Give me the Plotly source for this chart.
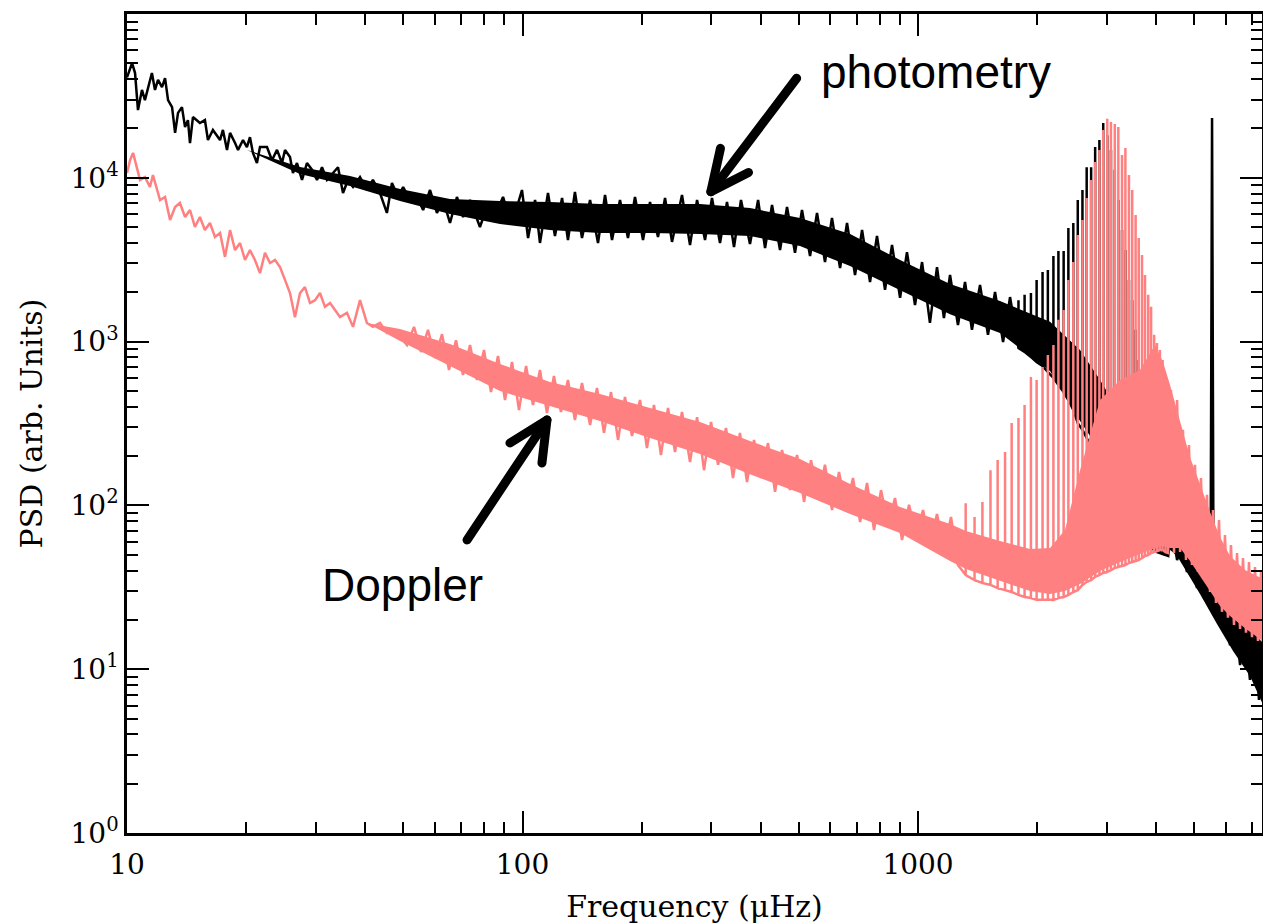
import plotly.graph_objects as go

# ---------------- Photometry spectrum (black) ----------------
phot_low_freq = [
    10.0, 10.30, 10.48, 10.66, 10.91, 11.10, 11.56, 11.77, 11.98, 12.26, 12.48, 12.70, 13.00, 13.23, 13.46, 13.77, 14.02, 14.26, 14.43, 14.68,
    15.29, 15.74, 16.02, 16.49, 17.19, 17.48, 17.90, 18.22, 18.76, 19.09, 19.65, 20.10, 20.46, 20.82, 21.31, 21.69, 22.59, 23.26, 23.95, 24.66,
    25.09, 25.83, 26.28, 26.90, 27.70, 28.51, 29.36, 30.23, 31.12, 32.04, 33.18, 34.16, 35.17, 36.20, 37.28, 38.83, 40.42, 41.86, 43.62, 45.41,
    46.77, 48.45, 49.91, 51.96, 54.09, 56.07, 58.37, 60.77, 62.98, 65.57, 68.27, 70.77, 73.68, 78.06, 81.27, 84.24, 89.29, 92.98, 96.82,
    99.7, 103.3, 107.6, 110.7, 116.0, 120.8, 125.9, 130.3, 135.7, 141.4, 148.2, 155.2, 161.7, 168.4, 176.4, 184.8, 192.5, 201.7, 210.1, 220.1,
    229.3, 238.8, 253.1, 265.2, 276.3, 289.4, 301.4, 315.8, 328.9, 342.6, 356.8, 376.0, 394.2, 410.5, 427.5, 447.9, 466.5, 488.7, 509.0, 533.4,
    555.5, 581.9, 606.1, 635.3, 661.5, 693.1, 722.1, 756.3, 787.6, 825.3, 859.7, 900.9, 937.8, 982.7, 1024, 1072, 1117, 1163, 1205, 1262,
    1315, 1369, 1435, 1503, 1566, 1641, 1709,
]
phot_low_psd = [
    41000, 50200, 43600, 25900, 34400, 29800, 43600, 34400, 39600, 35800, 40600, 29800, 27000, 18800, 24900, 27000, 20400, 22500, 16300, 23500,
    21600, 22500, 17000, 19600, 17000, 19600, 14800, 18800, 16300, 14800, 17000, 15400, 17700, 14200, 12300, 15400, 15400, 12800, 14800, 12300,
    14800, 13400, 10700, 12300, 9700, 12300, 11200, 9700, 11600, 9700, 10700, 11600, 8080, 9700, 8790, 10100, 8430, 9700, 8080, 6100,
    9300, 7640, 8790, 7320, 7640, 6360, 8420, 6100, 7320, 5300, 7640, 5760, 7320, 5010, 6630, 5530, 7640, 5530, 6630,
    8420, 4290, 7320, 4000, 8080, 4410, 7530, 4170, 8190, 4290, 7320, 4000, 7850, 4170, 7320, 4290, 7640, 4170, 7120, 4350,
    7530, 4060, 7850, 3890, 7320, 4170, 7530, 4000, 7120, 3780, 7320, 3940, 7320, 3730, 6820, 3620, 6630, 3480, 6360, 3330,
    6100, 3060, 5680, 2810, 5300, 2550, 4800, 2310, 4410, 2070, 3890, 1850, 3520, 1670, 3060, 1300, 2850, 1390, 2550, 1260,
    2310, 1180, 2220, 1100, 2010, 995, 1870,
]
# p-mode comb seen in photometry
phot_mode_freq = [1795, 1860, 1930, 1995, 2065, 2130, 2200, 2265, 2335, 2400, 2470, 2535, 2605, 2670, 2740, 2805, 2875, 2940, 3010,
                  3075, 3145, 3210, 3280, 3345, 3415, 3480, 3550, 3615, 3685, 3750, 3820, 3885, 3955, 4020, 4090, 4155, 4225, 4290]
phot_mode_peak = [1790, 1930, 1980, 2380, 2660, 2740, 3330, 3570, 3570, 4940, 5300, 7320, 8420, 11600, 11600, 15400, 17000, 21600, 18200,
                  14800, 11200, 7320, 4800, 3620, 2380, 1790, 1180, 772, 506, 332, 251, 189, 143, 108, 93.7, 81.5, 70.8, 66.0]
phot_mode_base = [914, 864, 805, 751, 710, 652, 600, 543, 492, 440, 382, 318, 289, 258, 230, 212, 195, 177, 160,
                  147, 133, 121, 111, 101, 91.1, 83.8, 75.9, 70.8, 66.0, 61.5, 57.3, 55.0, 53.4, 51.9, 51.2, 50.5, 49.8, 49.1]
phot_tail_freq = [4387, 4520, 4650, 4787, 4929, 5075, 5225, 5379, 5490, 5540, 5590, 5669, 5803, 5973, 6151, 6332, 6521, 6713,
                  6908, 7113, 7281, 7454, 7543]
phot_tail_psd = [70.8, 46.4, 57.3, 39.2, 49.8, 31.3, 41.5, 25.4, 26.5, 23200, 24.7, 30.4, 18.6, 26.5, 14.0, 21.4, 10.6, 17.3,
                 8.6, 15.1, 6.5, 15.1, 5.4]
# upper / lower edge of the dense noise band
phot_band_freq = [20.10, 27.38, 36.64, 49.02, 65.57, 87.71, 117.3, 157.0, 210.1, 281.1, 376.0, 503.1, 673.4, 900.9, 1205, 1612,
                  2157, 2569, 2886, 3436, 4093, 4520, 5165, 5702, 6260, 6908, 7543]
phot_band_hi = [14800, 11640, 10250, 8540, 7420, 7220, 7120, 6920, 6920, 6920, 6540, 5680, 4540, 3150, 2250, 1770,
                1320, 889, 583, 289, 143, 88.6, 50.5, 33.1, 23.3, 17.6, 14.0]
phot_band_lo = [14800, 10550, 8910, 7220, 6010, 5220, 4800, 4600, 4600, 4540, 4410, 3830, 2890, 2070, 1470, 1130,
                661, 328, 215, 114, 60.6, 49.1, 28.8, 18.9, 12.9, 9.1, 5.7]

# ---------------- Doppler spectrum (pink) ----------------
dopp_low_freq = [
    10.0, 10.18, 10.36, 10.60, 10.79, 11.10, 11.43, 11.63, 11.91, 12.12, 12.48, 12.85, 13.23, 13.61, 14.02, 14.43, 14.85, 15.29, 15.74, 16.21,
    16.69, 17.19, 17.69, 18.22, 18.76, 19.31, 19.88, 20.46, 21.06, 21.69, 22.33, 22.99, 23.67, 24.37, 25.09, 25.83, 26.59, 27.38, 28.18, 29.02,
    29.88, 30.76, 31.66, 32.61, 33.57, 34.57, 35.99, 37.28, 38.83, 40.42, 41.86, 43.62, 45.41, 47.04, 49.02,
    51.05, 53.18, 55.39, 57.69, 60.09, 62.59, 65.19, 67.90, 70.72, 73.68, 76.73, 79.92, 83.24, 86.70, 90.31, 94.07, 97.98, 102.1, 106.3, 110.7,
    115.3, 120.1, 125.1, 130.3, 135.7, 141.4, 148.2, 154.3, 160.7, 167.4, 174.4, 181.6, 189.2, 198.2, 206.4, 215.0, 223.9, 233.3, 243.0, 253.1,
    265.2, 276.3, 287.7, 299.7, 312.2, 327.0, 340.6, 354.7, 369.5, 384.9, 400.9, 417.6, 435.0, 453.1, 474.6, 494.5, 515.1, 536.5, 558.8, 581.9,
    606.1, 631.4, 657.7, 685.0, 713.9, 743.2, 774.1, 806.4, 839.9, 874.8, 911.2, 949.1, 988.4, 1030, 1072, 1117, 1163, 1212, 1262,
]
dopp_low_psd = [
    10700, 12800, 14200, 11600, 9700, 10100, 8790, 10400, 8420, 7320, 7640, 5530, 6630, 7020, 5760, 6360, 5010, 5760, 4800, 5300,
    4350, 4600, 3290, 4800, 3620, 4000, 3150, 3620, 3150, 2620, 3480, 3020, 3150, 2850, 2380, 1980, 1410, 1980, 2150, 1720,
    1790, 1980, 1630, 1720, 1560, 1410, 1500, 1230, 1790, 1300, 1230, 1300, 1130, 1180, 1070,
    953, 1230, 864, 1180, 794, 1110, 671, 1020, 625, 953, 583, 889, 492, 817, 440, 751, 382, 710, 410, 671,
    366, 617, 372, 583, 332, 559, 310, 521, 277, 492, 251, 459, 265, 440, 224, 410, 203, 393, 212, 372,
    184, 346, 164, 323, 177, 297, 147, 277, 139, 251, 147, 240, 121, 218, 124, 203, 105, 189, 111, 177,
    93.7, 160, 96.4, 147, 79.2, 137, 70.8, 124, 75.9, 111, 61.5, 101, 66.0, 93.7, 57.3, 88.6, 53.4, 84.9, 43.3,
]
dopp_mode_freq = [1320, 1390, 1455, 1525, 1590, 1660, 1725, 1795, 1860, 1930, 1995, 2065, 2130, 2200, 2265, 2335, 2400, 2470, 2535,
                  2605, 2670, 2740, 2805, 2875, 2940, 3010, 3075, 3145, 3210, 3280, 3345, 3415, 3480, 3550, 3615, 3685, 3750,
                  3820, 3885, 3955, 4020, 4090, 4155, 4225, 4290]
dopp_mode_peak = [103, 85, 105, 164, 189, 212, 318, 342, 410, 609, 583, 700, 829, 953, 1360, 1560, 2380, 3060, 4480,
                  5530, 7530, 9700, 12500, 14800, 19600, 22900, 21900, 21300, 20400, 13800, 15200, 10400, 8420, 5930, 4290, 3380, 2550,
                  1930, 1630, 1100, 980, 889, 773, 626, 543]
dopp_mode_base = [37.6, 35.0, 33.6, 32.7, 31.3, 30.4, 29.6, 28.4, 27.6, 27.2, 26.5, 26.5, 26.5, 26.5, 27.2, 27.6, 28.4, 29.6, 30.4,
                  32.7, 34.1, 35.0, 36.6, 37.6, 38.7, 39.2, 40.3, 41.5, 42.1, 42.7, 43.3, 44.5, 45.1, 45.8, 46.4, 47.7, 49.1,
                  49.8, 51.2, 51.9, 52.6, 53.4, 53.4, 51.9, 51.2]
dopp_tail_freq = [4362, 4440, 4520, 4599, 4677, 4760, 4844, 4929, 5016, 5105, 5194, 5286, 5379, 5475, 5571, 5669, 5768,
                  5870, 5973, 6077, 6185, 6295, 6407, 6521, 6634, 6751, 6869, 6991, 7113, 7238, 7366, 7496, 7626]
dopp_tail_psd = [506, 51.2, 440, 51.9, 289, 46.4, 234, 43.3, 177, 39.2, 147, 36.1, 116, 29.6, 93.7, 25.4, 81.5,
                 22.4, 66.0, 20.6, 57.3, 18.6, 51.2, 17.6, 47.7, 16.7, 45.1, 15.7, 42.1, 14.9, 39.2, 13.9, 36.6]
dopp_band_freq = [40.42, 49.02, 65.57, 87.71, 117.3, 157.0, 210.1, 281.1, 376.0, 503.1, 673.4, 900.9, 1205, 1322, 1612, 1920,
                  2157, 2353, 2569, 2886, 3242, 3642, 3973, 4165, 4338, 4599, 4873, 5165, 5475, 5803, 6151, 6713, 7543]
dopp_band_hi = [1300, 1194, 967, 730, 567, 479, 393, 323, 247, 192, 135, 97.8, 77.0, 69.8, 60.6, 54.2,
                55.0, 70.8, 164, 440, 583, 671, 953, 751, 543, 328, 197, 135, 91.1, 64.1, 49.1, 40.3, 35.0]
dopp_band_lo = [1300, 1010, 710, 499, 404, 328, 258, 206, 155, 119, 88.6, 67.9, 45.8, 40.9, 34.6, 30.0,
                28.8, 30.0, 33.1, 39.8, 45.1, 50.5, 55.0, 56.5, 55.0, 55.0, 45.8, 37.1, 30.0, 24.3, 21.1, 17.8, 14.5]

# ---------------- axis ticks ----------------
x_major = [10, 100, 1000]
x_major_text = ["10", "100", "1000"]
x_minor = [20, 30, 40, 50, 60, 70, 80, 90, 200, 300, 400, 500, 600, 700, 800, 900, 2000, 3000, 4000, 5000, 6000, 7000]
y_major = [1, 10, 100, 1000, 10000, 100000]
y_major_text = ["10<sup>0</sup>", "10<sup>1</sup>", "10<sup>2</sup>", "10<sup>3</sup>", "10<sup>4</sup>", "10<sup>5</sup>"]
y_minor = [m * d for d in [1, 10, 100, 1000, 10000] for m in range(2, 10)]

BLACK = "#000000"
PINK = "#ff8080"


def spectrum(low_f, low_p, mode_f, mode_pk, mode_bs, tail_f, tail_p):
    xs, ys = list(low_f), list(low_p)
    for f, pk, bs in zip(mode_f, mode_pk, mode_bs):
        xs += [f, f, f]
        ys += [bs, pk, bs]
    xs += list(tail_f)
    ys += list(tail_p)
    return xs, ys


def band(freq, hi, lo):
    return list(freq) + list(freq)[::-1], list(hi) + list(lo)[::-1]


fig = go.Figure()

bx, by = band(phot_band_freq, phot_band_hi, phot_band_lo)
fig.add_trace(go.Scatter(x=bx, y=by, fill="toself", fillcolor=BLACK, line=dict(width=0), mode="lines",
                         hoverinfo="skip", showlegend=False))
px_, py_ = spectrum(phot_low_freq, phot_low_psd, phot_mode_freq, phot_mode_peak, phot_mode_base,
                    phot_tail_freq, phot_tail_psd)
fig.add_trace(go.Scatter(x=px_, y=py_, mode="lines", line=dict(color=BLACK, width=2.5), name="photometry",
                         showlegend=False))

bx, by = band(dopp_band_freq, dopp_band_hi, dopp_band_lo)
fig.add_trace(go.Scatter(x=bx, y=by, fill="toself", fillcolor=PINK, line=dict(width=0), mode="lines",
                         hoverinfo="skip", showlegend=False))
dx_, dy_ = spectrum(dopp_low_freq, dopp_low_psd, dopp_mode_freq, dopp_mode_peak, dopp_mode_base,
                    dopp_tail_freq, dopp_tail_psd)
fig.add_trace(go.Scatter(x=dx_, y=dy_, mode="lines", line=dict(color=PINK, width=2.5), name="Doppler",
                         showlegend=False))

tick_font = dict(family="DejaVu Serif", size=28, color="black")
title_font = dict(family="DejaVu Serif", size=30, color="black")

fig.update_xaxes(
    type="log", range=[1, 3.8698], showgrid=False, zeroline=False,
    showline=True, linecolor="black", linewidth=2.5, mirror="ticks",
    ticks="inside", ticklen=22, tickwidth=2, tickcolor="black",
    tickvals=x_major, ticktext=x_major_text, tickfont=tick_font, ticklabelstandoff=5,
    minor=dict(ticks="inside", ticklen=11, tickwidth=1.5, tickcolor="black", tickvals=x_minor, showgrid=False),
    title=dict(text="Frequency (\u03bcHz)", font=title_font, standoff=18),
)
fig.update_yaxes(
    type="log", range=[0, 5], showgrid=False, zeroline=False,
    showline=True, linecolor="black", linewidth=2.5, mirror="ticks",
    ticks="inside", ticklen=22, tickwidth=2, tickcolor="black",
    tickvals=y_major, ticktext=y_major_text, tickfont=tick_font,
    minor=dict(ticks="inside", ticklen=11, tickwidth=1.5, tickcolor="black", tickvals=y_minor, showgrid=False),
    title=dict(text="PSD (arb. Units)", font=title_font, standoff=20),
)

arrow_line = dict(color="black", width=9)
fig.update_layout(
    width=1263, height=924,
    margin=dict(l=127, r=1, t=14, b=91, autoexpand=False),
    paper_bgcolor="white", plot_bgcolor="white",
    showlegend=False,
    shapes=[
        dict(type="path", xref="paper", yref="paper", path="M0.5900,0.9215 L0.5144,0.7830", line=arrow_line),
        dict(type="path", xref="paper", yref="paper", path="M0.5229,0.8360 L0.5144,0.7830 L0.5476,0.8065",
             line=arrow_line),
        dict(type="path", xref="paper", yref="paper", path="M0.2996,0.3578 L0.3700,0.5043", line=arrow_line),
        dict(type="path", xref="paper", yref="paper", path="M0.3374,0.4762 L0.3700,0.5043 L0.3656,0.4518",
             line=arrow_line),
    ],
    annotations=[
        dict(text="photometry", xref="paper", yref="paper", x=0.7128, y=0.9292, showarrow=False,
             xanchor="center", yanchor="middle", font=dict(family="Liberation Sans", size=46, color="black")),
        dict(text="Doppler", xref="paper", yref="paper", x=0.2423, y=0.3028, showarrow=False,
             xanchor="center", yanchor="middle", font=dict(family="Liberation Sans", size=46, color="black")),
    ],
)

post = ("document.body.style.margin='0';document.body.style.overflow='hidden';"
        "document.querySelectorAll('.shapelayer path').forEach(function(p){"
        "p.style.strokeLinecap='round';p.style.strokeLinejoin='round';});")
fig.write_html("out.html", post_script=post, config={"displayModeBar": False})
